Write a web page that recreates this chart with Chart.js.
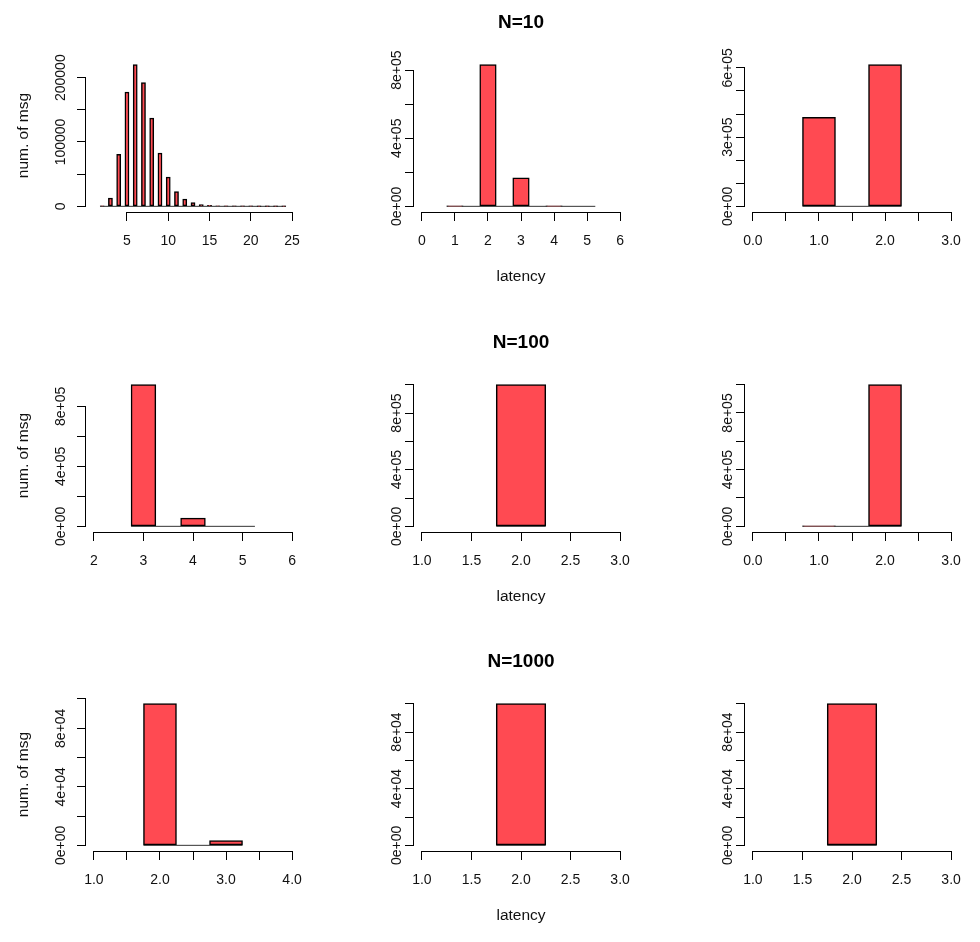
<!DOCTYPE html>
<html lang="en">
<head>
  <meta charset="UTF-8" />
  <title>latency histograms</title>
  <script src="https://cdn.jsdelivr.net/npm/chart.js"></script>
  <style>
    html, body { margin: 0; padding: 0; background: #fff; }
    body { width: 980px; height: 942px; position: relative; overflow: hidden; }
    canvas { position: absolute; }
  </style>
</head>
<body>
<script>
  // ---- data (counts per latency value) ----
  // row N=10
  const latA10 = [2, 3, 4, 5, 6, 7, 8, 9, 10, 11, 12, 13, 14, 15, 16, 17, 18, 19, 20, 21, 22, 23, 24];
  const cntA10 = [400, 13000, 80800, 177700, 220200, 192200, 137300, 82900, 45600, 22800, 11400, 5700,
                  2600, 1500, 800, 400, 200, 100, 60, 30, 20, 10, 5];
  const latB10 = [1, 2, 3, 4, 5];
  const cntB10 = [300, 832000, 168000, 300, 0];
  const latC10 = [1, 2];
  const cntC10 = [386000, 614000];
  // row N=100
  const latA100 = [3, 4, 5];
  const cntA100 = [945000, 55000, 0];
  const latB100 = [2];
  const cntB100 = [1000000];
  const latC100 = [1, 2];
  const cntC100 = [300, 999700];
  // row N=1000
  const latA1000 = [2, 3];
  const cntA1000 = [96800, 3200];
  const latB1000 = [2];
  const cntB1000 = [100000];
  const latC1000 = [2];
  const cntC1000 = [100000];

  // ---- axis ranges and ticks ----
  const xTicks5to25 = [5, 10, 15, 20, 25];
  const xLab5to25 = ['5', '10', '15', '20', '25'];
  const xTicks0to6 = [0, 1, 2, 3, 4, 5, 6];
  const xLab0to6 = ['0', '1', '2', '3', '4', '5', '6'];
  const xTicks0to3 = [0, 0.5, 1, 1.5, 2, 2.5, 3];
  const xLab0to3 = ['0.0', '', '1.0', '', '2.0', '', '3.0'];
  const xTicks2to6 = [2, 3, 4, 5, 6];
  const xLab2to6 = ['2', '3', '4', '5', '6'];
  const xTicks1to3 = [1, 1.5, 2, 2.5, 3];
  const xLab1to3 = ['1.0', '1.5', '2.0', '2.5', '3.0'];
  const xTicks1to4 = [1, 1.5, 2, 2.5, 3, 3.5, 4];
  const xLab1to4 = ['1.0', '', '2.0', '', '3.0', '', '4.0'];

  const yTicksA10 = [0, 50000, 100000, 150000, 200000];
  const yLabA10 = ['0', '', '100000', '', '200000'];
  const yTicks8e5 = [0, 200000, 400000, 600000, 800000];
  const yLab8e5 = ['0e+00', '', '4e+05', '', '8e+05'];
  const yTicks6e5 = [0, 100000, 200000, 300000, 400000, 500000, 600000];
  const yLab6e5 = ['0e+00', '', '', '3e+05', '', '', '6e+05'];
  const yTicks1e6 = [0, 200000, 400000, 600000, 800000, 1000000];
  const yLab1e6 = ['0e+00', '', '4e+05', '', '8e+05', ''];
  const yTicks1e5 = [0, 20000, 40000, 60000, 80000, 100000];
  const yLab1e5 = ['0e+00', '', '4e+04', '', '8e+04', ''];

  const rowTitles = ['N=10', 'N=100', 'N=1000'];

  const panels = [
    { lat: latA10, cnt: cntA10, xlim: [1, 25], xt: xTicks5to25, xl: xLab5to25, yt: yTicksA10, yl: yLabA10 },
    { lat: latB10, cnt: cntB10, xlim: [0, 6], xt: xTicks0to6, xl: xLab0to6, yt: yTicks8e5, yl: yLab8e5 },
    { lat: latC10, cnt: cntC10, xlim: [0, 3], xt: xTicks0to3, xl: xLab0to3, yt: yTicks6e5, yl: yLab6e5 },
    { lat: latA100, cnt: cntA100, xlim: [2, 6], xt: xTicks2to6, xl: xLab2to6, yt: yTicks8e5, yl: yLab8e5 },
    { lat: latB100, cnt: cntB100, xlim: [1, 3], xt: xTicks1to3, xl: xLab1to3, yt: yTicks1e6, yl: yLab1e6 },
    { lat: latC100, cnt: cntC100, xlim: [0, 3], xt: xTicks0to3, xl: xLab0to3, yt: yTicks1e6, yl: yLab1e6 },
    { lat: latA1000, cnt: cntA1000, xlim: [1, 4], xt: xTicks1to4, xl: xLab1to4, yt: yTicks1e5, yl: yLab1e5 },
    { lat: latB1000, cnt: cntB1000, xlim: [1, 3], xt: xTicks1to3, xl: xLab1to3, yt: yTicks1e5, yl: yLab1e5 },
    { lat: latC1000, cnt: cntC1000, xlim: [1, 3], xt: xTicks1to3, xl: xLab1to3, yt: yTicks1e5, yl: yLab1e5 }
  ];

  // ---- layout (R-like 3x3 grid) ----
  const FONT = '"Liberation Sans", Arial, Helvetica, sans-serif';
  const FONT_SIZE = 14;
  const LAB_SIZE = 15.5;
  const TITLE_SIZE = 19;
  const COL_LEFT = [0, 328, 659];
  const ROW_TOP = [0, 320, 639];
  const CW = 326, CH = 300;
  const AREA_LEFT = 86, AREA_TOP = 59, AREA_W = 214, AREA_H = 153;
  const X_AXIS_H = 75;
  const TICK_LEN = 9;
  const BAR_COLOR = '#FF4A52';

  Chart.defaults.font.family = FONT;
  Chart.defaults.font.size = FONT_SIZE;
  Chart.defaults.color = '#111';
  Chart.defaults.animation = false;

  const measureCtx = document.createElement('canvas').getContext('2d');
  function yLabelPad(labels, gap) {
    measureCtx.font = FONT_SIZE + 'px ' + FONT;
    const widest = Math.max(...labels.map(s => measureCtx.measureText(s).width));
    return gap - TICK_LEN - widest / 2;
  }

  // R style axes: line only from first to last tick
  const rAxes = {
    id: 'rAxes',
    afterDraw(chart) {
      const { ctx, chartArea } = chart;
      const xs = chart.scales.x, ys = chart.scales.y;
      const al = v => Math.round(v - 0.5) + 0.5;
      ctx.save();
      ctx.strokeStyle = '#000';
      ctx.lineWidth = 1;
      ctx.beginPath();
      const ax = Math.round(chartArea.left) - 0.5;
      ctx.moveTo(ax, al(ys.getPixelForValue(ys.ticks[0].value)) + 0.5);
      ctx.lineTo(ax, al(ys.getPixelForValue(ys.ticks[ys.ticks.length - 1].value)) - 0.5);
      const ay = Math.round(chartArea.bottom) + 0.5;
      ctx.moveTo(al(xs.getPixelForValue(xs.ticks[0].value)) - 0.5, ay);
      ctx.lineTo(al(xs.getPixelForValue(xs.ticks[xs.ticks.length - 1].value)) + 0.5, ay);
      ctx.stroke();
      ctx.restore();
    }
  };

  function makeChart(p, row, col) {
    const cv = document.createElement('canvas');
    cv.width = CW;
    cv.height = CH;
    cv.style.left = COL_LEFT[col] + 'px';
    cv.style.top = ROW_TOP[row] + 'px';
    document.body.appendChild(cv);

    // histogram bins are half a unit wide, empty bins sit between the integers
    const bars = [];
    p.lat.forEach((v, i) => {
      bars.push({ x: v, y: p.cnt[i] });
      if (i < p.lat.length - 1) bars.push({ x: v + 0.5, y: 0 });
    });
    const base = [
      { x: p.lat[0] - 0.25, y: 0 },
      { x: p.lat[p.lat.length - 1] + 0.25, y: 0 }
    ];
    const ymax = Math.max(...p.cnt);
    const xspan = p.xlim[1] - p.xlim[0];
    const hasTitle = col === 1;

    new Chart(cv, {
      type: 'bar',
      data: {
        datasets: [
          {
            data: bars,
            backgroundColor: BAR_COLOR,
            borderColor: '#000',
            borderWidth: 1.5,
            borderSkipped: false,
            barPercentage: 1,
            categoryPercentage: 1,
            order: 0
          },
          {
            type: 'line',
            data: base,
            borderColor: '#333',
            borderWidth: 1,
            pointRadius: 0,
            order: 1
          }
        ]
      },
      options: {
        responsive: false,
        events: [],
        layout: {
          padding: {
            left: 0,
            right: CW - AREA_LEFT - AREA_W,
            top: hasTitle ? 0 : AREA_TOP,
            bottom: CH - AREA_TOP - AREA_H - X_AXIS_H
          }
        },
        plugins: {
          legend: { display: false },
          tooltip: { enabled: false },
          title: {
            display: hasTitle,
            text: rowTitles[row],
            fullSize: false,
            color: '#000',
            font: { size: TITLE_SIZE, weight: 'bold' },
            padding: { top: 11, bottom: AREA_TOP - 11 - TITLE_SIZE * 1.2 }
          }
        },
        scales: {
          x: {
            type: 'linear',
            offset: false,
            min: p.xlim[0] - 0.04 * xspan,
            max: p.xlim[1] + 0.04 * xspan,
            bounds: 'data',
            border: { display: false },
            grid: { offset: false, drawOnChartArea: false, drawTicks: true, tickLength: TICK_LEN, color: '#000', lineWidth: 1 },
            ticks: {
              autoSkip: false,
              maxRotation: 0,
              padding: 12,
              color: '#111',
              callback: (v, i) => p.xl[i]
            },
            title: {
              display: hasTitle,
              text: 'latency',
              color: '#111',
              font: { size: LAB_SIZE },
              padding: { top: 0, bottom: 1 }
            },
            afterBuildTicks: s => { s.ticks = p.xt.map(v => ({ value: v })); },
            afterFit: s => { s.height = X_AXIS_H; s.paddingLeft = 0; s.paddingRight = 0; }
          },
          y: {
            type: 'linear',
            min: -0.04 * ymax,
            max: 1.04 * ymax,
            bounds: 'data',
            border: { display: false },
            grid: { drawOnChartArea: false, drawTicks: true, tickLength: TICK_LEN, color: '#000', lineWidth: 1 },
            ticks: {
              autoSkip: false,
              minRotation: 90,
              maxRotation: 90,
              crossAlign: 'center',
              padding: yLabelPad(p.yl, col === 0 ? 25 : 17),
              color: '#111',
              callback: (v, i) => p.yl[i]
            },
            title: {
              display: col === 0,
              text: 'num. of msg',
              color: '#111',
              font: { size: LAB_SIZE },
              padding: { top: 14, bottom: 0 }
            },
            afterBuildTicks: s => { s.ticks = p.yt.map(v => ({ value: v })); },
            afterFit: s => { s.width = AREA_LEFT; s.paddingTop = 0; s.paddingBottom = 0; }
          }
        }
      },
      plugins: [rAxes]
    });
  }

  panels.forEach((p, i) => makeChart(p, Math.floor(i / 3), i % 3));
</script>
</body>
</html>
